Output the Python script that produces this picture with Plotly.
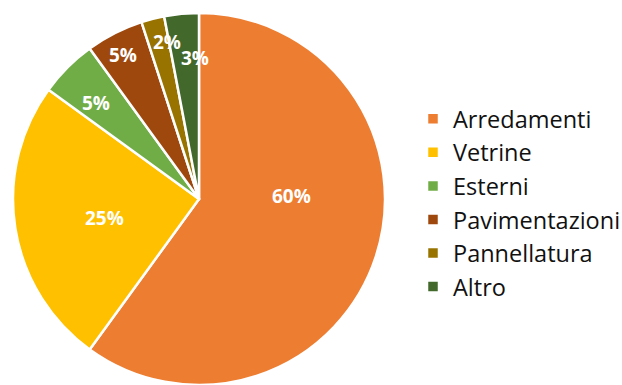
import math
import plotly.graph_objects as go

# Share of revenue by product line (percent)
categories = ["Arredamenti", "Vetrine", "Esterni", "Pavimentazioni", "Pannellatura", "Altro"]
shares = [60, 25, 5, 5, 2, 3]
colors = ["#ED7D31", "#FFC000", "#70AD47", "#9E480E", "#997300", "#43682B"]

# Label placement: fraction of the radius and an angular nudge (degrees)
label_radius = [0.50, 0.52, 0.76, 0.875, 0.86, 0.76]
label_turn = [-19.8, -2.4, -2.0, -0.8, 2.9, 3.8]

W, H = 622, 385
cx_px, cy_px, r_px = 199.0, 199.0, 186.0

fig = go.Figure(
    go.Pie(
        labels=categories,
        values=shares,
        sort=False,
        direction="clockwise",
        rotation=0,
        marker=dict(colors=colors, line=dict(color="white", width=2.5)),
        textinfo="none",
        hoverinfo="label+percent",
        domain=dict(
            x=[(cx_px - r_px) / W, (cx_px + r_px) / W],
            y=[max(0, (H - cy_px - r_px) / H), (H - cy_px + r_px) / H],
        ),
    )
)

# Percentage labels placed at each slice's mid-angle
total = sum(shares)
start = 0.0
annotations = []
for val, rf, turn in zip(shares, label_radius, label_turn):
    span = 360.0 * val / total
    theta = math.radians(start + span / 2 + turn)
    start += span
    x_px = cx_px + rf * r_px * math.sin(theta)
    y_px = cy_px - rf * r_px * math.cos(theta)
    annotations.append(
        dict(
            x=x_px / W,
            y=1 - y_px / H,
            xref="paper",
            yref="paper",
            text=f"{round(100 * val / total)}%",
            showarrow=False,
            font=dict(family="Open Sans", size=19, color="white", weight="bold"),
            xanchor="center",
            yanchor="middle",
        )
    )

fig.update_layout(
    width=W,
    height=H,
    margin=dict(l=0, r=0, t=0, b=0, autoexpand=False),
    paper_bgcolor="white",
    plot_bgcolor="white",
    showlegend=True,
    legend=dict(
        x=413 / W,
        y=1 - 203 / H,
        xanchor="left",
        yanchor="middle",
        font=dict(family="Open Sans", size=23.5, color="#111111"),
        bgcolor="rgba(0,0,0,0)",
    ),
    annotations=annotations,
)

fig.write_html("out.html")
